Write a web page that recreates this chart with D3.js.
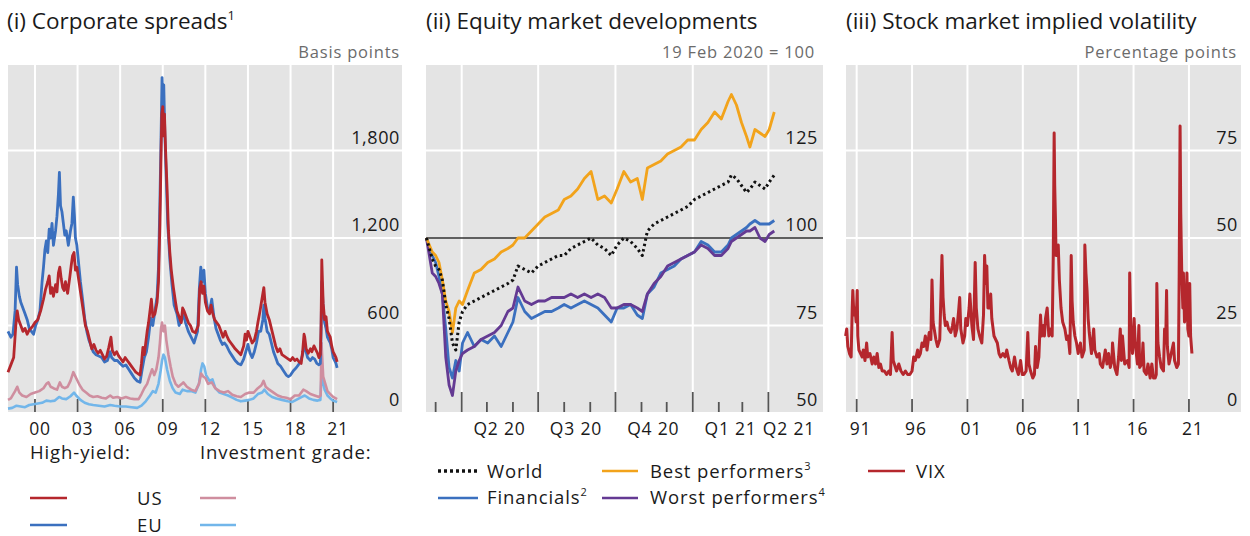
<!DOCTYPE html>
<html>
<head>
<meta charset="utf-8">
<script src="https://cdn.jsdelivr.net/npm/d3@7"></script>
<style>
body { margin: 0; background: #fff; }
svg text { font-family: "Open Sans", sans-serif; fill: #1a1a1a; }
</style>
</head>
<body>
<svg id="chart" width="1250" height="536"></svg>
<script>
// ---- (i) Corporate spreads, basis points: [year, value]
var usHighYield = [[1998.1,280],[1998.3,330],[1998.5,380],[1998.65,600],[1998.75,700],[1998.85,640],[1999.0,600],[1999.15,560],[1999.3,580],[1999.45,540],[1999.6,570],[1999.8,590],[2000.0,620],[2000.2,640],[2000.4,700],[2000.6,780],[2000.75,850],[2000.9,900],[2001.0,940],[2001.1,820],[2001.2,860],[2001.3,800],[2001.45,880],[2001.55,830],[2001.65,960],[2001.75,1000],[2001.85,920],[2001.95,860],[2002.05,840],[2002.15,900],[2002.3,820],[2002.45,930],[2002.55,1010],[2002.65,1080],[2002.75,1100],[2002.85,980],[2002.95,1000],[2003.1,900],[2003.25,800],[2003.4,700],[2003.55,600],[2003.7,560],[2003.85,500],[2004.0,440],[2004.15,470],[2004.3,430],[2004.45,410],[2004.6,430],[2004.75,400],[2004.9,370],[2005.05,390],[2005.2,450],[2005.35,520],[2005.45,430],[2005.6,400],[2005.75,420],[2005.9,390],[2006.05,370],[2006.2,350],[2006.35,380],[2006.5,360],[2006.65,340],[2006.8,320],[2006.95,300],[2007.1,280],[2007.25,270],[2007.4,260],[2007.5,340],[2007.6,450],[2007.7,400],[2007.8,480],[2007.9,560],[2008.0,620],[2008.1,700],[2008.2,780],[2008.3,660],[2008.45,680],[2008.6,760],[2008.7,900],[2008.8,1300],[2008.87,1700],[2008.93,2050],[2009.0,2100],[2009.05,1900],[2009.12,2050],[2009.2,1800],[2009.3,1550],[2009.4,1250],[2009.5,1100],[2009.6,980],[2009.75,860],[2009.9,760],[2010.0,700],[2010.15,660],[2010.3,620],[2010.4,720],[2010.5,700],[2010.65,660],[2010.8,620],[2010.95,600],[2011.1,560],[2011.3,550],[2011.5,600],[2011.6,850],[2011.7,900],[2011.8,820],[2011.9,870],[2012.0,760],[2012.15,700],[2012.3,680],[2012.4,740],[2012.5,690],[2012.65,640],[2012.8,620],[2012.95,600],[2013.1,560],[2013.25,520],[2013.4,560],[2013.5,530],[2013.65,500],[2013.8,480],[2013.95,460],[2014.1,440],[2014.3,420],[2014.5,400],[2014.7,460],[2014.8,540],[2014.9,500],[2015.0,560],[2015.15,520],[2015.3,480],[2015.45,500],[2015.6,560],[2015.7,620],[2015.85,700],[2015.95,760],[2016.05,820],[2016.12,860],[2016.2,760],[2016.35,680],[2016.5,640],[2016.65,580],[2016.8,520],[2016.95,460],[2017.1,420],[2017.25,440],[2017.4,400],[2017.55,390],[2017.7,380],[2017.85,370],[2018.0,360],[2018.15,380],[2018.3,360],[2018.45,370],[2018.6,350],[2018.75,340],[2018.85,420],[2018.95,540],[2019.0,520],[2019.1,440],[2019.25,410],[2019.4,440],[2019.5,420],[2019.65,460],[2019.8,430],[2019.9,410],[2020.0,380],[2020.1,400],[2020.15,600],[2020.2,1050],[2020.25,900],[2020.3,750],[2020.4,640],[2020.5,660],[2020.6,560],[2020.7,540],[2020.8,520],[2020.9,460],[2021.0,420],[2021.1,400],[2021.2,380],[2021.28,350]];
var euHighYield = [[1998.1,560],[1998.3,520],[1998.45,540],[1998.6,700],[1998.7,1000],[1998.78,880],[1998.9,800],[1999.0,760],[1999.15,720],[1999.3,680],[1999.45,640],[1999.6,580],[1999.75,560],[1999.9,540],[2000.05,600],[2000.2,640],[2000.35,700],[2000.5,900],[2000.6,1000],[2000.7,1120],[2000.8,1180],[2000.9,1100],[2001.0,1260],[2001.1,1200],[2001.2,1300],[2001.3,1150],[2001.45,1250],[2001.55,1350],[2001.65,1500],[2001.72,1650],[2001.8,1420],[2001.9,1380],[2002.0,1300],[2002.1,1220],[2002.2,1250],[2002.35,1150],[2002.5,1250],[2002.6,1300],[2002.7,1480],[2002.78,1350],[2002.85,1200],[2002.95,1150],[2003.05,1050],[2003.2,900],[2003.35,780],[2003.5,650],[2003.65,560],[2003.8,500],[2003.95,460],[2004.1,420],[2004.3,400],[2004.5,390],[2004.7,380],[2004.9,350],[2005.1,360],[2005.3,420],[2005.4,380],[2005.6,360],[2005.8,360],[2006.0,340],[2006.2,320],[2006.4,330],[2006.6,300],[2006.8,270],[2007.0,240],[2007.2,220],[2007.4,210],[2007.55,300],[2007.7,380],[2007.85,420],[2008.0,520],[2008.15,650],[2008.3,600],[2008.45,700],[2008.6,800],[2008.7,1000],[2008.8,1450],[2008.88,1900],[2008.95,2300],[2009.0,2150],[2009.07,2250],[2009.15,1900],[2009.25,1600],[2009.35,1300],[2009.5,1050],[2009.65,880],[2009.8,740],[2010.0,680],[2010.15,600],[2010.35,640],[2010.45,700],[2010.6,620],[2010.8,560],[2011.0,520],[2011.2,480],[2011.45,560],[2011.58,860],[2011.68,1000],[2011.78,900],[2011.9,980],[2012.0,820],[2012.15,720],[2012.3,700],[2012.45,780],[2012.6,660],[2012.75,580],[2012.9,540],[2013.05,500],[2013.2,470],[2013.35,480],[2013.5,460],[2013.7,420],[2013.9,390],[2014.1,360],[2014.3,340],[2014.5,330],[2014.7,370],[2014.85,420],[2015.0,470],[2015.15,410],[2015.3,380],[2015.45,420],[2015.6,480],[2015.75,560],[2015.9,560],[2016.05,640],[2016.12,740],[2016.2,650],[2016.35,560],[2016.5,540],[2016.65,480],[2016.8,420],[2016.95,380],[2017.1,340],[2017.3,320],[2017.5,290],[2017.7,260],[2017.85,250],[2018.0,260],[2018.2,290],[2018.4,310],[2018.55,330],[2018.7,350],[2018.85,400],[2018.95,460],[2019.05,440],[2019.2,380],[2019.4,360],[2019.55,380],[2019.7,370],[2019.85,340],[2020.0,330],[2020.1,340],[2020.15,550],[2020.2,900],[2020.25,820],[2020.3,700],[2020.4,620],[2020.5,580],[2020.6,520],[2020.7,500],[2020.8,480],[2020.9,440],[2021.0,380],[2021.1,360],[2021.2,340],[2021.28,310]];
var usInvGrade = [[1998.1,90],[1998.3,100],[1998.6,150],[1998.75,180],[1998.9,140],[1999.1,120],[1999.4,110],[1999.7,130],[2000.0,140],[2000.3,150],[2000.6,170],[2000.8,200],[2000.95,210],[2001.1,180],[2001.3,170],[2001.55,160],[2001.75,210],[2001.9,180],[2002.1,170],[2002.3,180],[2002.5,220],[2002.7,280],[2002.8,260],[2002.95,230],[2003.15,190],[2003.35,160],[2003.6,140],[2003.85,120],[2004.1,110],[2004.4,115],[2004.7,105],[2005.0,100],[2005.3,120],[2005.5,105],[2005.8,110],[2006.1,100],[2006.4,110],[2006.7,100],[2007.0,95],[2007.3,95],[2007.5,130],[2007.7,170],[2007.9,200],[2008.1,260],[2008.25,300],[2008.4,260],[2008.55,300],[2008.7,380],[2008.8,480],[2008.88,580],[2008.95,620],[2009.05,560],[2009.15,600],[2009.25,500],[2009.4,400],[2009.55,320],[2009.7,250],[2009.9,200],[2010.1,180],[2010.35,200],[2010.45,210],[2010.7,180],[2011.0,160],[2011.3,150],[2011.55,200],[2011.7,270],[2011.85,250],[2012.0,240],[2012.2,200],[2012.45,210],[2012.7,170],[2013.0,150],[2013.3,140],[2013.6,150],[2013.9,125],[2014.2,115],[2014.5,110],[2014.8,130],[2015.1,140],[2015.4,140],[2015.7,170],[2015.95,190],[2016.1,220],[2016.25,180],[2016.5,160],[2016.8,140],[2017.1,120],[2017.4,110],[2017.7,105],[2018.0,95],[2018.3,120],[2018.6,120],[2018.9,160],[2019.1,150],[2019.4,130],[2019.7,120],[2020.0,110],[2020.12,120],[2020.18,480],[2020.22,400],[2020.3,250],[2020.45,200],[2020.6,150],[2020.8,130],[2021.0,110],[2021.28,95]];
var euInvGrade = [[1998.1,30],[1998.4,35],[1998.7,50],[1999.0,45],[1999.3,40],[1999.6,55],[1999.9,60],[2000.2,65],[2000.5,70],[2000.8,85],[2001.1,80],[2001.4,85],[2001.7,110],[2001.9,100],[2002.2,95],[2002.5,115],[2002.75,140],[2002.9,120],[2003.2,90],[2003.5,70],[2003.8,60],[2004.1,55],[2004.5,50],[2004.9,45],[2005.3,55],[2005.6,50],[2006.0,45],[2006.4,45],[2006.8,40],[2007.2,35],[2007.5,50],[2007.8,80],[2008.1,120],[2008.3,150],[2008.5,140],[2008.7,200],[2008.85,290],[2008.95,360],[2009.05,400],[2009.15,380],[2009.3,300],[2009.5,220],[2009.7,170],[2009.9,140],[2010.2,130],[2010.4,160],[2010.7,150],[2011.0,150],[2011.3,140],[2011.55,200],[2011.7,300],[2011.8,340],[2011.92,320],[2012.05,260],[2012.3,220],[2012.5,230],[2012.7,170],[2013.0,140],[2013.3,130],[2013.6,120],[2013.9,105],[2014.2,90],[2014.5,80],[2014.8,85],[2015.1,90],[2015.4,100],[2015.7,130],[2016.0,140],[2016.15,160],[2016.4,130],[2016.7,110],[2017.0,100],[2017.4,90],[2017.8,80],[2018.1,75],[2018.4,90],[2018.8,110],[2019.0,120],[2019.3,100],[2019.6,90],[2019.9,85],[2020.1,90],[2020.18,250],[2020.25,230],[2020.4,160],[2020.6,120],[2020.8,100],[2021.0,85],[2021.28,75]];
var spreadYears = [2000, 2003, 2006, 2009, 2012, 2015, 2018, 2021];
var spreadYearLabels = ["00", "03", "06", "09", "12", "15", "18", "21"];
var spreadTicks = [0, 600, 1200, 1800];

// ---- (ii) Equity market developments, 19 Feb 2020 = 100
var equityDates = ["2020-02-19","2020-02-26","2020-03-01","2020-03-05","2020-03-09","2020-03-13","2020-03-17","2020-03-21","2020-03-25","2020-03-29","2020-04-02","2020-04-08","2020-04-16","2020-04-24","2020-05-02","2020-05-10","2020-05-18","2020-05-26","2020-06-01","2020-06-07","2020-06-15","2020-06-23","2020-07-01","2020-07-09","2020-07-17","2020-07-25","2020-08-01","2020-08-09","2020-08-17","2020-08-25","2020-09-02","2020-09-10","2020-09-18","2020-09-26","2020-10-03","2020-10-11","2020-10-19","2020-10-27","2020-11-02","2020-11-08","2020-11-16","2020-11-24","2020-12-02","2020-12-10","2020-12-18","2020-12-26","2021-01-03","2021-01-11","2021-01-19","2021-01-27","2021-02-04","2021-02-12","2021-02-16","2021-02-22","2021-02-28","2021-03-06","2021-03-10","2021-03-16","2021-03-22","2021-03-28","2021-04-02","2021-04-08"];
var world           = [100,94,92,91,88,81,77,70,68,76,79,81,82,83,84,85,86,87,88,92,91,90,92,93,94,95,95,97,98,99,100,98,97,95,98,100,99,97,95,102,104,105,106,107,108,109,111,112,113,114,115,116,118,117,115,113,114,116,115,114,116,118];
var financials      = [100,95,93,89,84,74,63,60,65,62,70,73,69,71,70,72,69,73,76,83,79,77,78,79,79,80,81,80,81,82,81,80,78,76,80,80,81,78,77,84,86,90,91,92,94,95,96,99,98,96,96,98,100,101,102,103,104,105,104,104,104,105];
var bestPerformers  = [100,96,95,93,88,82,79,73,80,82,81,85,90,91,93,94,96,97,98,100,100,102,104,106,107,108,111,112,114,117,119,111,112,110,114,119,116,117,111,120,121,122,124,125,126,128,128,131,133,136,134,139,141,138,133,129,126,131,130,129,131,136];
var worstPerformers = [100,90,89,87,84,66,58,55,62,65,67,68,69,71,72,73,75,79,80,86,82,81,82,82,83,83,83,84,83,84,83,84,83,80,80,81,81,80,79,84,87,89,92,93,94,95,96,98,97,95,95,97,99,100,101,102,102,103,100,99,101,102];
var quarterStarts = ["2020-04-01", "2020-07-01", "2020-10-01", "2021-01-01", "2021-04-01"];
var quarterLabels = ["Q2 20", "Q3 20", "Q4 20", "Q1 21", "Q2 21"];
var equityTicks = [50, 75, 100, 125];

// ---- (iii) Stock market implied volatility, percentage points: [year, value]
var vix = [[1990.0,22],[1990.1,24],[1990.2,19],[1990.35,17],[1990.5,16],[1990.6,30],[1990.65,35],[1990.75,28],[1990.85,30],[1990.95,26],[1991.05,35],[1991.1,22],[1991.2,18],[1991.35,17],[1991.5,16],[1991.6,18],[1991.75,15],[1991.9,20],[1992.0,16],[1992.2,17],[1992.4,14],[1992.55,16],[1992.7,14],[1992.85,17],[1993.0,13],[1993.15,14],[1993.3,12],[1993.5,12],[1993.7,11],[1993.9,12],[1994.05,11],[1994.2,23],[1994.3,15],[1994.4,14],[1994.6,12],[1994.8,14],[1995.0,12],[1995.2,11],[1995.4,12],[1995.6,11],[1995.8,11],[1996.0,12],[1996.15,16],[1996.3,15],[1996.5,18],[1996.6,16],[1996.75,17],[1996.9,20],[1997.05,19],[1997.2,22],[1997.35,18],[1997.55,23],[1997.7,21],[1997.8,38],[1997.9,26],[1998.0,24],[1998.15,21],[1998.3,19],[1998.5,21],[1998.62,35],[1998.7,45],[1998.8,33],[1998.9,28],[1999.0,25],[1999.15,26],[1999.3,24],[1999.5,23],[1999.65,25],[1999.75,27],[1999.9,22],[2000.05,24],[2000.2,29],[2000.3,33],[2000.4,24],[2000.6,20],[2000.75,22],[2000.85,27],[2001.0,25],[2001.15,30],[2001.22,34],[2001.4,25],[2001.55,21],[2001.7,43],[2001.8,30],[2001.95,24],[2002.1,22],[2002.3,20],[2002.45,28],[2002.55,45],[2002.65,37],[2002.75,42],[2002.85,30],[2003.0,30],[2003.1,34],[2003.2,27],[2003.4,22],[2003.55,21],[2003.7,20],[2003.85,17],[2004.0,16],[2004.2,17],[2004.4,16],[2004.55,18],[2004.75,15],[2004.9,13],[2005.05,12],[2005.25,16],[2005.4,13],[2005.6,11],[2005.8,15],[2005.95,11],[2006.1,11],[2006.3,12],[2006.45,23],[2006.55,14],[2006.7,12],[2006.9,10],[2007.05,11],[2007.15,19],[2007.3,13],[2007.45,16],[2007.6,28],[2007.7,22],[2007.85,25],[2007.95,22],[2008.05,27],[2008.2,30],[2008.35,22],[2008.5,24],[2008.65,22],[2008.75,45],[2008.83,80],[2008.88,65],[2008.95,55],[2009.0,45],[2009.1,45],[2009.2,48],[2009.3,38],[2009.45,30],[2009.6,26],[2009.8,24],[2009.95,21],[2010.1,22],[2010.25,17],[2010.37,45],[2010.45,32],[2010.55,26],[2010.7,22],[2010.85,20],[2011.0,17],[2011.2,20],[2011.35,16],[2011.55,18],[2011.6,48],[2011.7,40],[2011.8,35],[2011.9,27],[2012.0,23],[2012.2,17],[2012.4,24],[2012.5,18],[2012.7,16],[2012.9,17],[2013.0,14],[2013.2,13],[2013.45,18],[2013.6,14],[2013.75,17],[2013.9,13],[2014.05,15],[2014.1,20],[2014.3,13],[2014.5,11],[2014.65,16],[2014.8,24],[2014.9,15],[2015.0,22],[2015.2,14],[2015.45,15],[2015.6,13],[2015.65,40],[2015.75,24],[2015.9,17],[2016.05,27],[2016.15,20],[2016.35,14],[2016.48,25],[2016.55,13],[2016.75,14],[2016.85,20],[2016.95,12],[2017.15,11],[2017.3,14],[2017.5,10],[2017.65,14],[2017.8,10],[2017.95,10],[2018.05,11],[2018.1,37],[2018.2,20],[2018.35,16],[2018.5,13],[2018.7,12],[2018.8,24],[2018.9,20],[2018.98,35],[2019.05,19],[2019.2,14],[2019.4,17],[2019.6,20],[2019.7,15],[2019.9,13],[2020.05,14],[2020.12,40],[2020.2,82],[2020.26,57],[2020.35,40],[2020.45,30],[2020.5,40],[2020.6,26],[2020.72,28],[2020.82,40],[2020.9,24],[2021.0,22],[2021.07,37],[2021.15,22],[2021.27,17]];
var vixYears = [1991, 1996, 2001, 2006, 2011, 2016, 2021];
var vixYearLabels = ["91", "96", "01", "06", "11", "16", "21"];
var vixTicks = [0, 25, 50, 75];

var plotTop = 65,
    plotBottom = 412,
    bg = "#e4e4e4";

var svg = d3.select("#chart");
var parseDate = d3.utcParse("%Y-%m-%d");

function makePanel(x0, x1) {
    var g = svg.append("g");
    g.append("rect")
        .attr("x", x0).attr("y", plotTop)
        .attr("width", x1 - x0).attr("height", plotBottom - plotTop)
        .attr("fill", bg);
    return g;
}

function title(x, txt, sup) {
    var t = svg.append("text").attr("x", x).attr("y", 29)
        .style("font-size", "22.5px").text(txt);
    if (sup) {
        t.append("tspan").attr("dy", -9).style("font-size", "13px").text(sup);
    }
}

function units(x, txt) {
    svg.append("text").attr("x", x).attr("y", 58)
        .attr("text-anchor", "end")
        .style("font-size", "16.5px").style("letter-spacing", "0.8px").style("fill", "#6b6b6b")
        .text(txt);
}

function hGrid(g, y, ticks, x0, x1) {
    g.selectAll(null).data(ticks).enter().append("line")
        .attr("x1", x0).attr("x2", x1)
        .attr("y1", function (d) { return y(d); })
        .attr("y2", function (d) { return y(d); })
        .attr("stroke", "#fff").attr("stroke-width", 2);
}

function vGrid(g, xs) {
    g.selectAll(null).data(xs).enter().append("line")
        .attr("x1", function (d) { return d; }).attr("x2", function (d) { return d; })
        .attr("y1", plotTop).attr("y2", plotBottom)
        .attr("stroke", "#fff").attr("stroke-width", 2);
}

function bottomTicks(g, xs, len) {
    g.selectAll(null).data(xs).enter().append("line")
        .attr("x1", function (d) { return d.x; }).attr("x2", function (d) { return d.x; })
        .attr("y1", function (d) { return plotBottom - (d.len || len); }).attr("y2", plotBottom)
        .attr("stroke", "#555").attr("stroke-width", 1.8);
}

function yLabels(g, y, ticks, xr, fmt) {
    g.selectAll(null).data(ticks).enter().append("text")
        .attr("x", xr)
        .attr("y", function (d) { return y(d) - 7; })
        .attr("text-anchor", "end")
        .style("font-size", "18px").style("letter-spacing", "0.6px")
        .text(fmt);
}

function xLabels(g, data, xf, anchor, labels) {
    g.selectAll(null).data(data).enter().append("text")
        .attr("x", xf)
        .attr("y", 435)
        .attr("text-anchor", anchor)
        .style("font-size", "17.5px").style("letter-spacing", "0.8px")
        .text(function (d, i) { return labels[i]; });
}

function drawLine(g, data, x, y, color, width, dash) {
    var line = d3.line()
        .x(function (d) { return x(d[0]); })
        .y(function (d) { return y(d[1]); });
    var p = g.append("path")
        .attr("d", line(data))
        .attr("fill", "none")
        .attr("stroke", color)
        .attr("stroke-width", width)
        .attr("stroke-linejoin", "round");
    if (dash) p.attr("stroke-dasharray", dash);
    return p;
}

function legendLine(x1, x2, y, color, dash) {
    var l = svg.append("line").attr("x1", x1).attr("x2", x2).attr("y1", y).attr("y2", y)
        .attr("stroke", color).attr("stroke-width", dash ? 3.5 : 2.5);
    if (dash) l.attr("stroke-dasharray", dash);
}

function legendText(x, y, txt, sup) {
    var t = svg.append("text").attr("x", x).attr("y", y)
        .style("font-size", "18.5px").style("letter-spacing", "0.9px").text(txt);
    if (sup) t.append("tspan").attr("dy", -8).style("font-size", "11px").style("letter-spacing", "0px").text(sup);
}

var red = "#b5272d", blue = "#3b70bf", pink = "#cf8e9f", lightBlue = "#72b6ea",
    orange = "#f2a31b", purple = "#643a93";

// ================= panel (i)
(function () {
    var x0 = 8, x1 = 402;
    var x = d3.scaleLinear().domain([1998.1, 2025.85]).range([x0, x1]);
    var y = d3.scaleLinear().domain([0, 2400]).range([413, 63]);
    var g = makePanel(x0, x1);
    hGrid(g, y, spreadTicks.slice(1), x0, x1);
    vGrid(g, spreadYears.map(x));
    bottomTicks(g, spreadYears.map(function (d) { return { x: x(d) }; }), 13);
    drawLine(g, euInvGrade, x, y, lightBlue, 2.6);
    drawLine(g, usInvGrade, x, y, pink, 2.6);
    drawLine(g, euHighYield, x, y, blue, 2.8);
    drawLine(g, usHighYield, x, y, red, 2.8);
    yLabels(g, y, spreadTicks, 400, d3.format(","));
    xLabels(g, spreadYears, function (d) { return x(d + 0.35); }, "middle", spreadYearLabels);
    title(7, "(i) Corporate spreads", "1");
    units(400, "Basis points");

    legendText(30, 459, "High-yield:");
    legendText(200, 459, "Investment grade:");
    legendLine(30, 67, 498, red);
    legendLine(30, 67, 525, blue);
    legendLine(200, 236, 498, pink);
    legendLine(200, 236, 525, lightBlue);
    legendText(137, 505, "US");
    legendText(137, 532, "EU");
})();

// ================= panel (ii)
(function () {
    var x0 = 426, x1 = 823;
    var x = d3.scaleUtc().domain([parseDate("2020-02-19"), parseDate("2021-06-05")]).range([426.4, 823]);
    var y = d3.scaleLinear().domain([50, 150]).range([413, 63]);
    var g = makePanel(x0, x1);
    hGrid(g, y, [75, 125], x0, x1);
    var qs = quarterStarts.map(parseDate);
    var last = qs.length - 1;
    vGrid(g, qs.map(x));
    var months = d3.utcMonth.range(parseDate("2020-03-01"), parseDate("2021-04-02"));
    bottomTicks(g, months.map(function (d) {
        return { x: x(d), len: d.getUTCMonth() % 3 === 0 ? 20 : 10 };
    }), 10);
    g.append("line").attr("x1", x0).attr("x2", x1)
        .attr("y1", y(100)).attr("y2", y(100))
        .attr("stroke", "#333").attr("stroke-width", 1.6);

    function series(vals) {
        return equityDates.map(function (d, i) { return [parseDate(d), vals[i]]; });
    }
    drawLine(g, series(financials), x, y, blue, 2.8);
    drawLine(g, series(worstPerformers), x, y, purple, 2.8);
    drawLine(g, series(bestPerformers), x, y, orange, 2.8);
    drawLine(g, series(world), x, y, "#111", 3, "2.5,3");

    yLabels(g, y, equityTicks, 818, function (d) { return d; });
    // labels sit mid-quarter; the last one is pulled in so it stays in the panel
    xLabels(g, qs, function (d, i) {
        return i === last ? 815 : x(d3.utcDay.offset(d, 45));
    }, function (d, i) { return i === last ? "end" : "middle"; }, quarterLabels);
    title(426, "(ii) Equity market developments");
    units(815, "19 Feb 2020 = 100");

    legendLine(438, 478, 471, "#111", "3,3");
    legendText(487, 478, "World");
    legendLine(438, 478, 498, blue);
    legendText(487, 504, "Financials", "2");
    legendLine(602, 638, 471, orange);
    legendText(650, 478, "Best performers", "3");
    legendLine(602, 638, 498, purple);
    legendText(650, 504, "Worst performers", "4");
})();

// ================= panel (iii)
(function () {
    var x0 = 846, x1 = 1241;
    var x = d3.scaleLinear().domain([1990, 2025.7]).range([845.6, 1241]);
    var y = d3.scaleLinear().domain([0, 100]).range([413, 63]);
    var g = makePanel(x0, x1);
    hGrid(g, y, vixTicks.slice(1), x0, x1);
    vGrid(g, vixYears.map(x));
    bottomTicks(g, vixYears.map(function (d) { return { x: x(d) }; }), 13);
    drawLine(g, vix, x, y, red, 3);
    yLabels(g, y, vixTicks, 1238, function (d) { return d; });
    xLabels(g, vixYears, function (d) { return x(d + 0.35); }, "middle", vixYearLabels);
    title(846, "(iii) Stock market implied volatility");
    units(1237, "Percentage points");

    legendLine(868, 905, 471, red);
    legendText(916, 478, "VIX");
})();
</script>
</body>
</html>
